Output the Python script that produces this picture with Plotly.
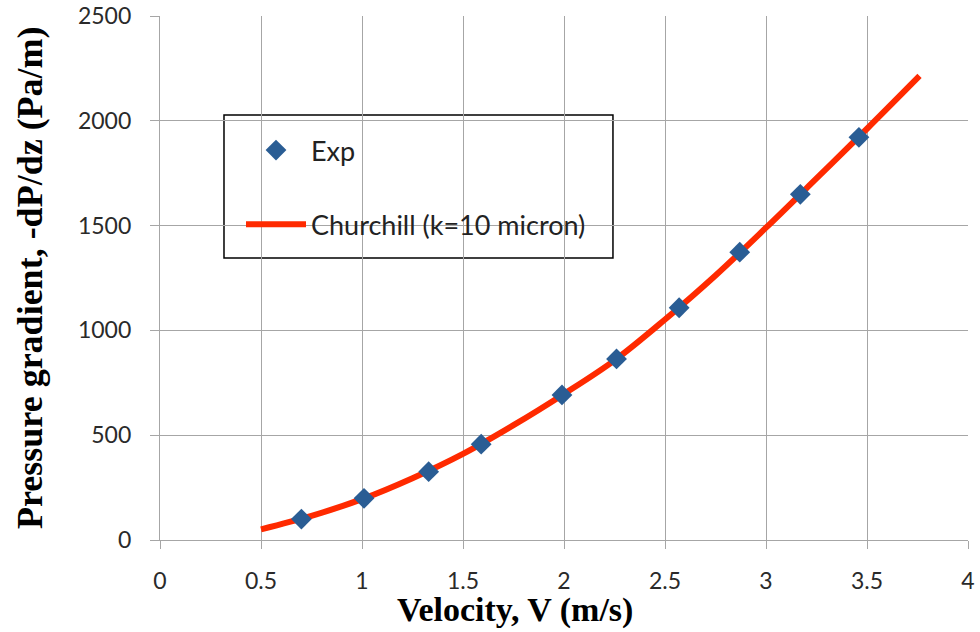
import plotly.graph_objects as go

# Measured pressure gradient vs. velocity
exp_velocity = [0.70, 1.01, 1.33, 1.59, 1.99, 2.26, 2.57, 2.87, 3.17, 3.46]
exp_gradient = [100, 199, 326, 457, 692, 864, 1108, 1373, 1649, 1921]

# Churchill correlation curve (k = 10 micron)
model_velocity = [0.50, 0.75, 1.00, 1.25, 1.50, 1.75, 2.00, 2.25, 2.50, 2.75, 3.00, 3.25, 3.50, 3.76]
model_gradient = [51, 115, 195, 295, 411, 548, 697, 857, 1052, 1262, 1490, 1725, 1962, 2214]

x_ticks = [0, 0.5, 1, 1.5, 2, 2.5, 3, 3.5, 4]
x_tick_text = ["0", "0.5", "1", "1.5", "2", "2.5", "3", "3.5", "4"]
y_ticks = [0, 500, 1000, 1500, 2000, 2500]

GRID = "#a6a6a6"
SANS = "Lato, 'Open Sans', sans-serif"
SERIF = "'Liberation Serif', 'Times New Roman', serif"
TICK_FONT = dict(family=SANS, size=23, color="#2a2a2a")

fig = go.Figure()

fig.add_trace(go.Scatter(
    x=model_velocity, y=model_gradient,
    mode="lines", name="Churchill (k=10 micron)",
    line=dict(color="#ff2a00", width=6, shape="spline"),
    legendgroup="b", legendrank=2,
))

fig.add_trace(go.Scatter(
    x=exp_velocity, y=exp_gradient,
    mode="markers", name="Exp",
    marker=dict(symbol="diamond", size=16, color="#2a5d94"),
    legendgroup="a", legendrank=1,
))

# Legend frame (white box over the grid)
fig.add_shape(
    type="rect", xref="paper", yref="paper",
    x0=0.0792, x1=0.5606, y0=0.538, y1=0.811,
    line=dict(color="#000000", width=1.5), fillcolor="white", layer="below",
)

fig.add_annotation(
    text="<b>Velocity, V (m/s)</b>", xref="paper", yref="paper",
    x=(515 - 160) / 808, y=(540 - 631) / 524, showarrow=False,
    font=dict(family=SERIF, size=34, color="#000000"),
    xanchor="center", yanchor="bottom",
)
fig.add_annotation(
    text="<b>Pressure gradient, -dP/dz (Pa/m)</b>", xref="paper", yref="paper",
    x=(30 - 160) / 808, y=(540 - 278) / 524, showarrow=False, textangle=-90,
    font=dict(family=SERIF, size=36, color="#000000"),
    xanchor="center", yanchor="middle",
)

fig.update_layout(
    width=980, height=632,
    margin=dict(l=160, r=12, t=16, b=92, autoexpand=False),
    paper_bgcolor="white", plot_bgcolor="white",
    showlegend=True,
    legend=dict(
        x=(241 - 160) / 808, y=(540 - 126) / 524, xanchor="left", yanchor="top",
        bgcolor="rgba(0,0,0,0)", borderwidth=0,
        font=dict(family=SANS, size=27, color="#222222"),
        traceorder="grouped", tracegroupgap=36, itemwidth=60,
    ),
    xaxis=dict(
        range=[0, 4], tickvals=x_ticks, ticktext=x_tick_text,
        showgrid=True, gridcolor=GRID, gridwidth=1.3,
        showline=True, linecolor=GRID, linewidth=1.3, mirror=False,
        ticks="outside", ticklen=8, tickcolor=GRID, tickwidth=1.3,
        tickfont=TICK_FONT, zeroline=False, automargin=False,
        ticklabelstandoff=12,
    ),
    yaxis=dict(
        range=[0, 2500], tickvals=y_ticks,
        showgrid=True, gridcolor=GRID, gridwidth=1.3,
        showline=True, linecolor=GRID, linewidth=1.3,
        ticks="outside", ticklen=9, tickcolor=GRID, tickwidth=1.3,
        tickfont=TICK_FONT, zeroline=False, automargin=False,
        ticklabelstandoff=14,
    ),
)

fig.write_html("out.html")
